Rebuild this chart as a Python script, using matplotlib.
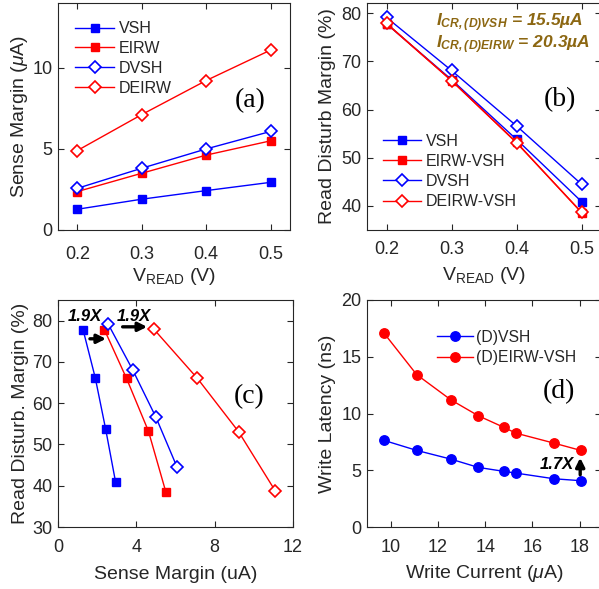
import matplotlib
matplotlib.use('Agg')
import matplotlib.pyplot as plt

plt.rcParams['font.family'] = ['Liberation Sans', 'DejaVu Sans']
plt.rcParams['mathtext.fontset'] = 'custom'
plt.rcParams['mathtext.rm'] = 'Liberation Sans'
plt.rcParams['mathtext.it'] = 'Liberation Sans:italic'
plt.rcParams['mathtext.bf'] = 'Liberation Sans:bold'
plt.rcParams['mathtext.bfit'] = 'Liberation Sans:bold:italic'

# данные
v_read = [0.2, 0.3, 0.4, 0.5]

sm_vsh = [1.28, 1.9, 2.43, 2.94]
sm_eirw = [2.37, 3.5, 4.62, 5.5]
sm_dvsh = [2.57, 3.81, 5.0, 6.08]
sm_deirw = [4.9, 7.12, 9.22, 11.1]

rdm_vsh = [77.8, 66.2, 53.8, 40.9]
rdm_eirw = [77.8, 66.0, 53.2, 38.6]
rdm_dvsh = [79.1, 68.1, 56.6, 44.5]
rdm_deirw = [77.9, 66.0, 53.1, 38.7]

write_current = [9.72, 11.1, 12.55, 13.71, 14.8, 15.3, 16.91, 18.04]
lat_dvsh = [7.63, 6.75, 5.98, 5.25, 4.9, 4.75, 4.25, 4.08]
lat_deirw = [17.08, 13.43, 11.2, 9.8, 8.77, 8.27, 7.39, 6.75]

BLUE = '#0000ff'
RED = '#ff0000'
GRAY = '#262626'
GOLD = '#8c6712'

W, H = 599, 589
fig = plt.figure(figsize=(W / 100, H / 100), dpi=100)


def make_ax(l, t, r, b):
    ax = fig.add_axes([l / W, 1 - b / H, (r - l) / W, (b - t) / H])
    for s in ax.spines.values():
        s.set_color(GRAY)
        s.set_linewidth(0.8)
    ax.tick_params(direction='in', top=True, right=True, length=4,
                   labelsize=13, colors=GRAY, labelcolor=GRAY)
    return ax


def sq(ax, x, y, c, lab):
    ax.plot(x, y, '-s', color=c, lw=1, ms=5.8, mfc=c, mec=c, label=lab)


def dia(ax, x, y, c, lab):
    ax.plot(x, y, '-D', color=c, lw=1, ms=5.8, mfc='white', mec=c, mew=1.2, label=lab)


# (a) Sense margin
ax1 = make_ax(58, 3, 290, 230)
sq(ax1, v_read, sm_vsh, BLUE, 'VSH')
sq(ax1, v_read, sm_eirw, RED, 'EIRW')
dia(ax1, v_read, sm_dvsh, BLUE, 'DVSH')
dia(ax1, v_read, sm_deirw, RED, 'DEIRW')
ax1.set_xlim(0.17, 0.53)
ax1.set_ylim(0, 14)
ax1.set_xticks([0.2, 0.3, 0.4, 0.5])
ax1.set_yticks([0, 5, 10])
ax1.tick_params(axis='x', pad=11.5)
ax1.tick_params(axis='y', pad=4)
ax1.set_xlabel(r'V$_{\mathrm{READ}}$ (V)', fontsize=14, color=GRAY, labelpad=2)
ax1.set_ylabel(r'Sense Margin ($\mu$A)', fontsize=14, color=GRAY, labelpad=2)
ax1.text(0.468, 8.0, '(a)', family='Liberation Serif', fontsize=20,
         ha='center', va='center', color='k')
ax1.legend(loc='upper left', bbox_to_anchor=(0.075, 0.92), frameon=False,
           fontsize=11.5, handlelength=2.4, handletextpad=0.3,
           labelspacing=0.3, borderpad=0, borderaxespad=0, labelcolor=GRAY)

# (b) Read disturb margin
ax2 = make_ax(367, 3, 601, 230)
sq(ax2, v_read, rdm_vsh, BLUE, 'VSH')
sq(ax2, v_read, rdm_eirw, RED, 'EIRW-VSH')
dia(ax2, v_read, rdm_dvsh, BLUE, 'DVSH')
dia(ax2, v_read, rdm_deirw, RED, 'DEIRW-VSH')
ax2.set_xlim(0.17, 0.53)
ax2.set_ylim(35, 82.1)
ax2.set_xticks([0.2, 0.3, 0.4, 0.5])
ax2.set_yticks([40, 50, 60, 70, 80])
ax2.tick_params(axis='x', pad=8)
ax2.tick_params(axis='y', pad=4)
ax2.set_xlabel(r'V$_{\mathrm{READ}}$ (V)', fontsize=14, color=GRAY, labelpad=5)
ax2.set_ylabel('Read Disturb Margin (%)', fontsize=14, color=GRAY, labelpad=4)
ax2.text(0.467, 62.1, '(b)', family='Liberation Serif', fontsize=20,
         ha='center', va='center', color='k')
icr_text = (r'$\mathbfit{I}_{\mathbfit{CR,(D)VSH}}$ = 15.5µA' + '\n' +
            r'$\mathbfit{I}_{\mathbfit{CR,(D)EIRW}}$ = 20.3µA')
ax2.text(0.2755, 75.7, icr_text, fontsize=12.5, linespacing=0.95,
         fontweight='bold', fontstyle='italic', color=GOLD, va='center', ha='left')
ax2.legend(loc='upper left', bbox_to_anchor=(0.068, 0.425), frameon=False,
           fontsize=11.5, handlelength=2.4, handletextpad=0.3,
           labelspacing=0.33, borderpad=0, borderaxespad=0, labelcolor=GRAY)

# (c) RDM vs SM
ax3 = make_ax(58, 300, 293, 527)
sq(ax3, sm_vsh, rdm_vsh, BLUE, 'VSH')
sq(ax3, sm_eirw, rdm_eirw, RED, 'EIRW')
dia(ax3, sm_dvsh, rdm_dvsh, BLUE, 'DVSH')
dia(ax3, sm_deirw, rdm_deirw, RED, 'DEIRW')
ax3.set_xlim(0, 12)
ax3.set_ylim(30, 85)
ax3.set_xticks([0, 4, 8, 12])
ax3.set_yticks([30, 40, 50, 60, 70, 80])
ax3.tick_params(axis='x', pad=8.5)
ax3.tick_params(axis='y', pad=4)
ax3.set_xlabel('Sense Margin (uA)', fontsize=14, color=GRAY, labelpad=7)
ax3.set_ylabel('Read Disturb. Margin (%)', fontsize=14, color=GRAY, labelpad=2)
ax3.text(9.76, 61.6, '(c)', family='Liberation Serif', fontsize=20,
         ha='center', va='center', color='k')
ax3.text(0.5, 81.1, '1.9X', fontsize=12, fontweight='bold', fontstyle='italic',
         va='center', ha='left', color='k')
ax3.text(2.98, 81.1, '1.9X', fontsize=12, fontweight='bold', fontstyle='italic',
         va='center', ha='left', color='k')
arrow = dict(arrowstyle='-|>', lw=2.4, color='k', mutation_scale=13,
             shrinkA=0, shrinkB=0)
ax3.annotate('', xy=(2.45, 75.6), xytext=(1.63, 75.6), arrowprops=arrow)
ax3.annotate('', xy=(4.55, 78.5), xytext=(3.3, 78.5), arrowprops=arrow)

# (d) Write latency
ax4 = make_ax(367, 300, 601, 527)
ax4.plot(write_current, lat_dvsh, '-o', color=BLUE, lw=1, ms=6.8, label='(D)VSH')
ax4.plot(write_current, lat_deirw, '-o', color=RED, lw=1, ms=6.8, label='(D)EIRW-VSH')
ax4.set_xlim(9.0, 18.9)
ax4.set_ylim(0, 20)
ax4.set_xticks([10, 12, 14, 16, 18])
ax4.set_yticks([0, 5, 10, 15, 20])
ax4.tick_params(axis='x', pad=8.5)
ax4.tick_params(axis='y', pad=4)
ax4.set_xlabel(r'Write Current ($\mu$A)', fontsize=14, color=GRAY, labelpad=5.5)
ax4.set_ylabel('Write Latency (ns)', fontsize=14, color=GRAY, labelpad=4)
ax4.text(17.14, 11.9, '(d)', family='Liberation Serif', fontsize=20,
         ha='center', va='center', color='k')
ax4.text(17.75, 5.5, '1.7X', fontsize=12, fontweight='bold', fontstyle='italic',
         va='center', ha='right', color='k')
ax4.annotate('', xy=(18.02, 6.1), xytext=(18.02, 4.6), arrowprops=arrow)
ax4.legend(loc='upper left', bbox_to_anchor=(0.3, 0.87), frameon=False,
           fontsize=11.3, handlelength=2.3, handletextpad=0.2,
           labelspacing=0.35, borderpad=0, borderaxespad=0, labelcolor=GRAY)

fig.savefig('out.png', dpi=100)
